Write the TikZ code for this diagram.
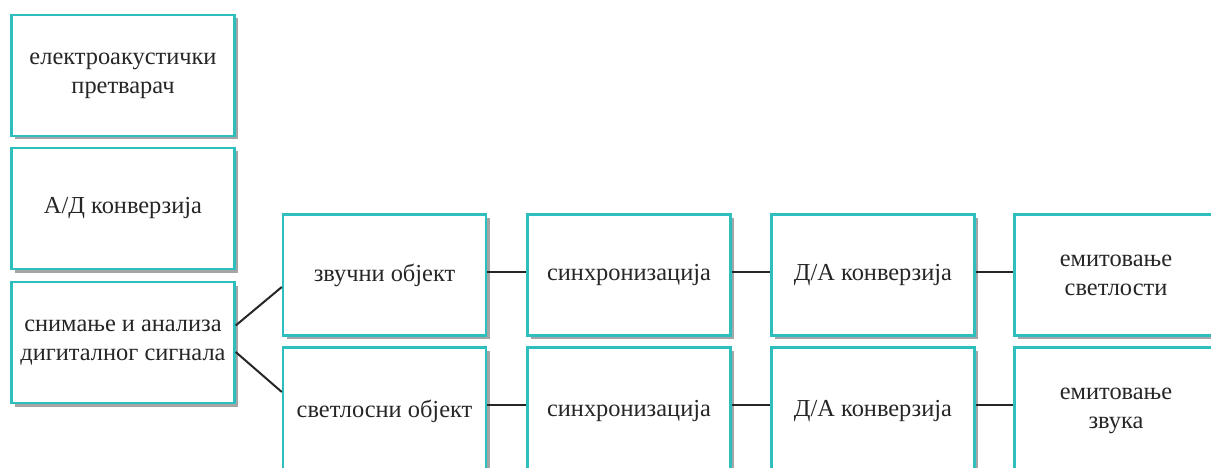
\documentclass[tikz,border=0pt]{standalone}
\usepackage{fontspec}
\setmainfont{Liberation Serif}
\usetikzlibrary{shadows}
\definecolor{teal1}{RGB}{46,190,190}
\definecolor{shad}{RGB}{165,165,165}
\tikzset{
  box/.style={draw=teal1, line width=2.4pt, fill=white, minimum height=121pt,
    align=center, font=\fontsize{24.4}{29}\selectfont, text=black!85,
    drop shadow={shadow xshift=3.5pt, shadow yshift=-3.5pt, fill=shad, opacity=1}},
  lbox/.style={box, minimum width=223pt},
  mbox/.style={box, minimum width=203pt},
  lowbox/.style={mbox, minimum height=127pt},
  conn/.style={draw=black!85, line width=2pt}
}
\begin{document}
\begin{tikzpicture}[x=1pt,y=-1pt]
\useasboundingbox (0,0) rectangle (1211,468);
\clip (0,0) rectangle (1211,468);
\node[lbox] (b1) at (123,75.5) {електроакустички\\претварач};
\node[lbox] (b2) at (123,208.5) {А/Д конверзија};
\node[lbox] (b3) at (123,342.5) {снимање и анализа\\дигиталног сигнала};
\node[mbox] (a1) at (384.5,275) {звучни објект};
\node[mbox] (a2) at (629,275) {синхронизација};
\node[mbox] (a3) at (873,275) {Д/А конверзија};
\node[mbox] (a4) at (1116,275) {емитовање\\светлости};
\node[lowbox] (c1) at (384.5,411) {\raisebox{4pt}{светлосни објект}};
\node[lowbox] (c2) at (629,411) {\raisebox{4pt}{синхронизација}};
\node[lowbox] (c3) at (873,411) {\raisebox{4pt}{Д/А конверзија}};
\node[lowbox] (c4) at (1116,411) {\raisebox{4pt}{емитовање}\\\raisebox{4pt}{звука}};
\draw[conn] ([yshift=17pt]b3.east) -- ([yshift=-12pt]a1.west);
\draw[conn] ([yshift=-9.5pt]b3.east) -- ([yshift=19pt]c1.west);
\draw[conn] ([yshift=3pt]a1.east) -- ([yshift=3pt]a2.west);
\draw[conn] ([yshift=3pt]a2.east) -- ([yshift=3pt]a3.west);
\draw[conn] ([yshift=3pt]a3.east) -- ([yshift=3pt]a4.west);
\draw[conn] ([yshift=6pt]c1.east) -- ([yshift=6pt]c2.west);
\draw[conn] ([yshift=6pt]c2.east) -- ([yshift=6pt]c3.west);
\draw[conn] ([yshift=6pt]c3.east) -- ([yshift=6pt]c4.west);
\end{tikzpicture}
\end{document}
